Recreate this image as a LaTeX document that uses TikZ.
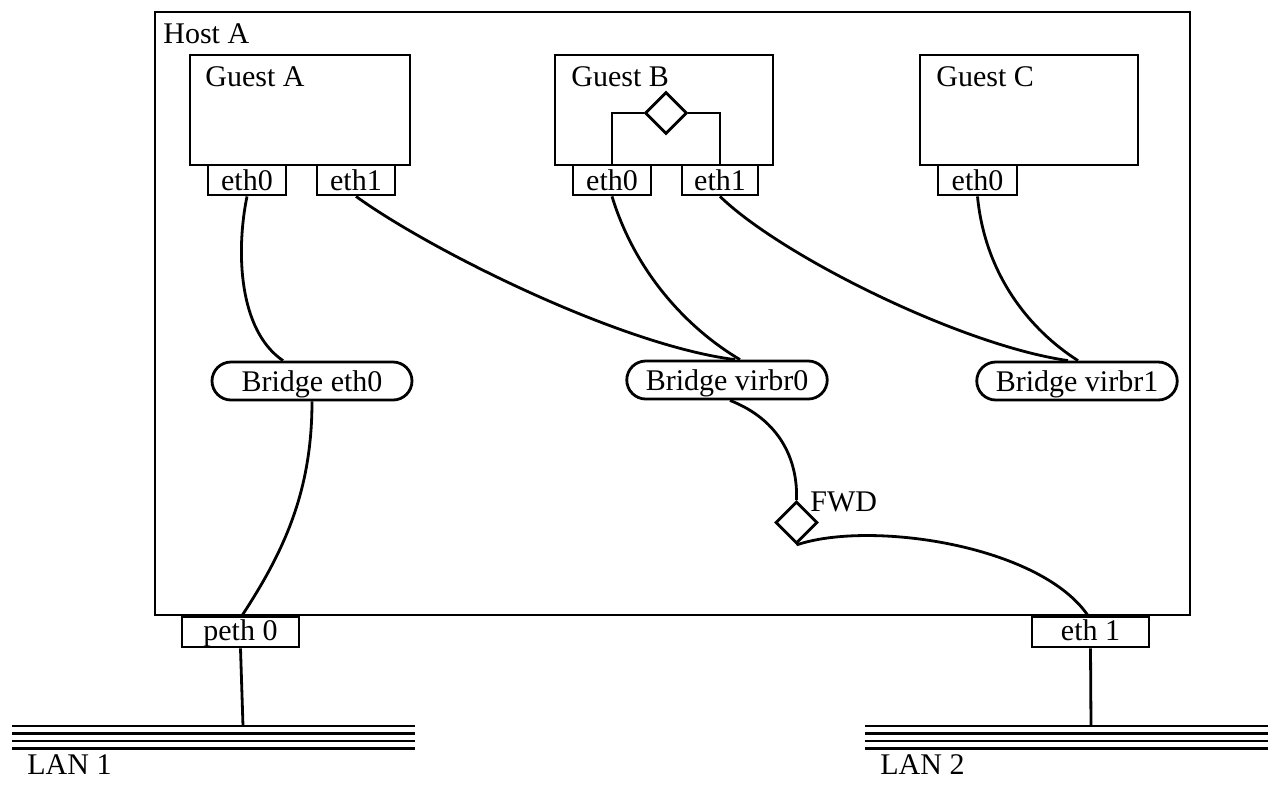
\documentclass[tikz,border=0pt]{standalone}
\usepackage{fontspec}
\setmainfont{Liberation Serif}
\usetikzlibrary{shapes.geometric,shapes.misc}
\begin{document}
\begin{tikzpicture}[x=0.5pt,y=-0.5pt,
  every node/.style={font=\fontsize{15}{18}\selectfont},
  box/.style={draw,line width=1.4pt,rectangle,inner sep=0pt},
  port/.style={draw,line width=1.4pt,rectangle,inner sep=0pt,minimum height=15pt,text height=12.5pt,text depth=2.5pt},
  bridge/.style={draw,line width=1.4pt,rounded rectangle,inner sep=0pt,minimum height=19pt,text height=14.5pt,text depth=4.5pt},
  dia/.style={draw,line width=1.4pt,diamond,inner sep=0pt,minimum width=21pt,minimum height=21pt},
  lbl/.style={anchor=base west,inner sep=0pt},
  wire/.style={line width=1.4pt},
  lan/.style={line cap=butt}]
\useasboundingbox (0,0) rectangle (1275,811);
% host and guests
\node[box,minimum width=517.5pt,minimum height=301.5pt] (host) at (672.5,313.5) {};
\node[lbl] (hostl) at (163,43) {Host A};
\node[box,minimum width=110pt,minimum height=55pt] (gA) at (300,110) {};
\node[box,minimum width=109pt,minimum height=55pt] (gB) at (664,110) {};
\node[box,minimum width=109pt,minimum height=55pt] (gC) at (1029,110) {};
\node[lbl] (gAl) at (205,86) {Guest A};
\node[lbl] (gBl) at (571,86) {Guest B};
\node[lbl] (gCl) at (936,86) {Guest C};
% ports
\node[port,minimum width=39pt] (gAe0) at (247,180) {eth0};
\node[port,minimum width=39pt] (gAe1) at (356,180) {eth1};
\node[port,minimum width=39pt] (gBe0) at (612,180) {eth0};
\node[port,minimum width=38pt] (gBe1) at (720,180) {eth1};
\node[port,minimum width=39.5pt] (gCe0) at (977.5,180) {eth0};
\node[port,minimum width=58.5pt,text height=11.5pt,text depth=3.5pt] (peth) at (240.5,632) {peth 0};
\node[port,minimum width=58.5pt,text height=11.5pt,text depth=3.5pt] (heth) at (1090.5,632) {eth 1};
% guest B internal forwarding
\node[dia] (gBd) at (666,113) {};
\draw[wire] (gBd.west) -| (gBe0.north);
\draw[wire] (gBd.east) -| (gBe1.north);
% bridges
\node[bridge,minimum width=100pt] (be0) at (312,381) {Bridge eth0};
\node[bridge,minimum width=99pt] (bv0) at (727,380) {Bridge virbr0};
\node[bridge,minimum width=99pt] (bv1) at (1077,381) {Bridge virbr1};
% FWD
\node[dia] (fwd) at (796.5,522.5) {};
\node[anchor=base west,inner sep=0pt] (fwdl) at (810,511) {FWD};
% connectors
\draw[wire] (gAe0.south) .. controls (236,250) and (238,330) .. (be0.north -| 283,0);
\draw[wire] (gAe1.south) .. controls (430,250) and (620,345) .. (bv0.north -| 735,0);
\draw[wire] (gBe0.south) .. controls (636,275) and (690,330) .. (bv0.north -| 740,0);
\draw[wire] (gBe1.south) .. controls (780,255) and (960,345) .. (bv1.north -| 1068,0);
\draw[wire] (gCe0.south) .. controls (985,275) and (1030,330) .. (bv1.north -| 1078,0);
\draw[wire] (bv0.south -| 730,0) .. controls (780,420) and (798,460) .. (fwd.north);
\draw[wire] (fwd.south) .. controls (870,520) and (1040,545) .. (heth.north -| 1088,0);
\draw[wire] (be0.south) .. controls (312,490) and (285,550) .. (peth.north -| 242,0);
% LANs
\coordinate (lan1) at (243,726);
\coordinate (lan2) at (1091,726);
\draw[wire] (peth.south) -- (lan1);
\draw[wire] (heth.south) -- (lan2);
\foreach \xa/\xb in {12/415,865/1268}{
  \draw[lan,line width=0.9pt] (\xa,726) -- (\xb,726);
  \draw[lan,line width=1.4pt] (\xa,733.5) -- (\xb,733.5);
  \draw[lan,line width=1.1pt] (\xa,741) -- (\xb,741);
  \draw[lan,line width=1.5pt] (\xa,748) -- (\xb,748);
}
\node[lbl] (lan1l) at (27,774) {LAN 1};
\node[lbl] (lan2l) at (880,774) {LAN 2};
\end{tikzpicture}
\end{document}
